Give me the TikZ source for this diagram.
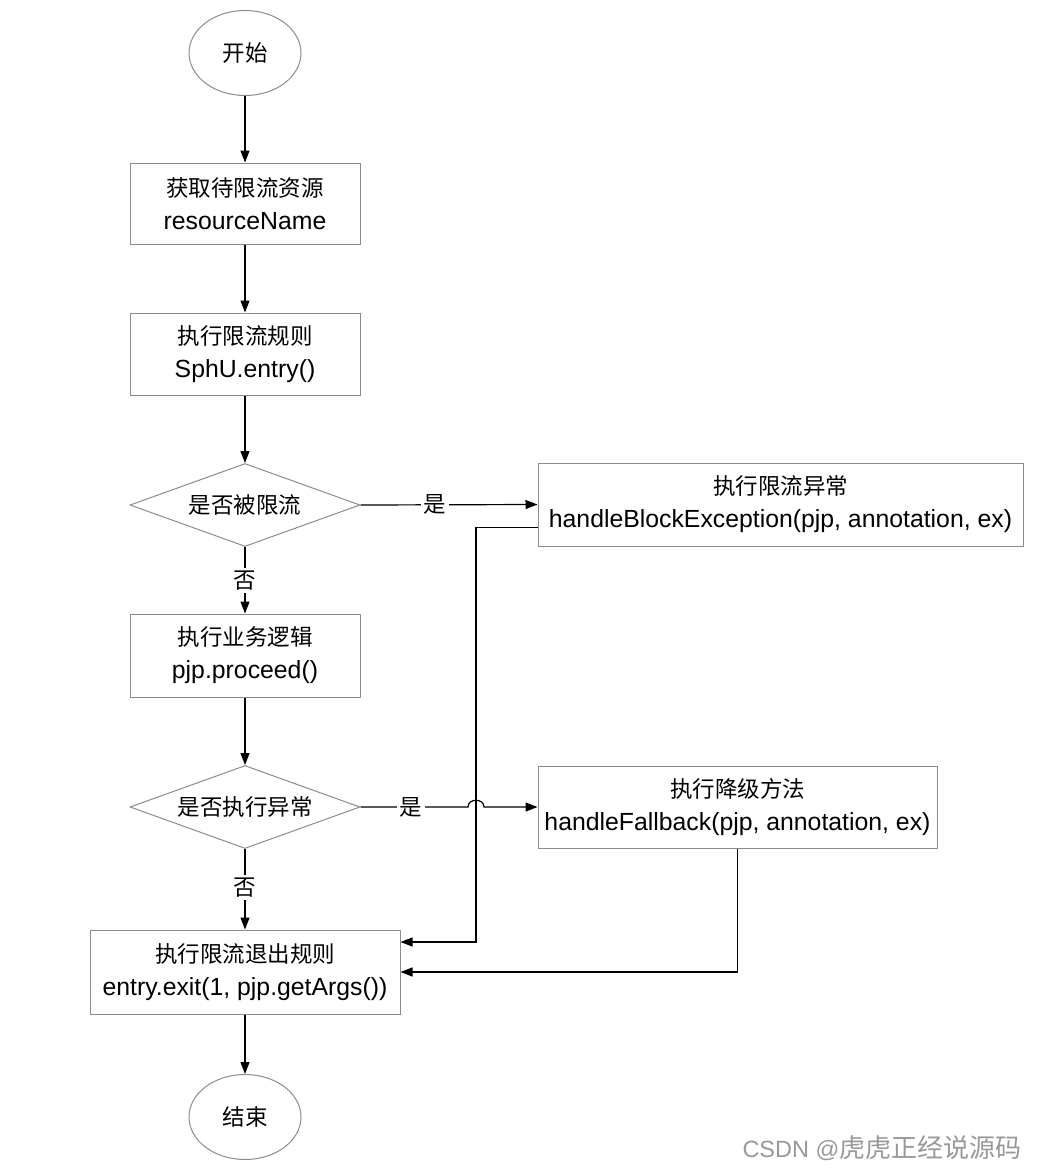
\documentclass[tikz,border=0pt]{standalone}
\usepackage{fontspec}
\setmainfont{Liberation Sans}
\newfontfamily\cjk{Noto Sans CJK SC}
\usetikzlibrary{shapes.geometric,arrows.meta,calc}
\newcommand{\zh}[1]{{\cjk\fontsize{22.5}{33}\selectfont #1}}
\begin{document}
\begin{tikzpicture}[x=1pt,y=-1pt,
  every node/.style={font=\fontsize{24.8}{33}\selectfont},
  box/.style={draw=black!45,line width=1pt,rectangle,align=center,inner sep=0pt},
  dia/.style={draw=black!45,line width=1pt,diamond,aspect=2.8,inner sep=0pt,minimum width=230pt,minimum height=83pt},
  oval/.style={draw=black!45,line width=1pt,ellipse,minimum width=112pt,minimum height=85pt,inner sep=0pt},
  arr/.style={line width=1.2pt,-{Triangle[length=12pt,width=9pt]}},
  lbl/.style={fill=white,inner sep=3pt}]
\path[use as bounding box,fill=white] (0,0) rectangle (1040,1172);

\node[oval] (start) at (245,53) {\zh{开始}};
\node[box,minimum width=230pt,minimum height=81pt] (b1) at (245,203.5) {\zh{获取待限流资源}\\resourceName};
\node[box,minimum width=230pt,minimum height=82pt] (b2) at (245,354) {\zh{执行限流规则}\\SphU.entry()};
\node[dia] (d1) at (245,505) {\zh{是否被限流}};
\node[box,minimum width=485pt,minimum height=83pt] (rb1) at (780.5,504.5) {\zh{执行限流异常}\\handleBlockException(pjp, annotation, ex)};
\node[box,minimum width=230pt,minimum height=83pt] (b3) at (245,655.5) {\zh{执行业务逻辑}\\pjp.proceed()};
\node[dia] (d2) at (245,807) {\zh{是否执行异常}};
\node[box,minimum width=399pt,minimum height=82pt] (rb2) at (737.5,807) {\zh{执行降级方法}\\handleFallback(pjp, annotation, ex)};
\node[box,minimum width=310pt,minimum height=84pt] (b4) at (245,972) {\zh{执行限流退出规则}\\entry.exit(1, pjp.getArgs())};
\node[oval] (end) at (245,1117) {\zh{结束}};

\node[text=black!40,font=\fontsize{23.5}{26}\selectfont] (wm) at (882,1148) {CSDN @{\cjk\fontsize{26}{26}\selectfont 虎虎正经说源码}};

\draw[arr] (start) -- (b1);
\draw[arr] (b1) -- (b2);
\draw[arr] (b2) -- (d1);
\draw[arr] (d1) -- (b3) node[lbl,pos=0.5] (n1) {\zh{否}};
\draw[arr] (b3) -- (d2);
\draw[arr] (d2) -- (b4) node[lbl,pos=0.48] (n2) {\zh{否}};
\draw[arr] (b4) -- (end);

\draw[arr] (d1.east) -- (rb1.west) node[lbl,pos=0.42] (y1) {\zh{是}};
\coordinate (h1) at (468,807);
\coordinate (h2) at (484,807);
\draw[arr] (d2.east) -- (h1) .. controls (468,798) and (484,798) .. (h2) -- (rb2.west);
\node[lbl] (y2) at (411,807) {\zh{是}};

\coordinate (c1) at ($(rb1.west)+(0,23)$);
\coordinate (c2) at (476,942);
\draw[arr] (c1) -- (c1 -| c2) -- (c2) -- (c2 -| b4.east);
\draw[arr] (rb2.south) |- (b4.east);
\end{tikzpicture}
\end{document}
